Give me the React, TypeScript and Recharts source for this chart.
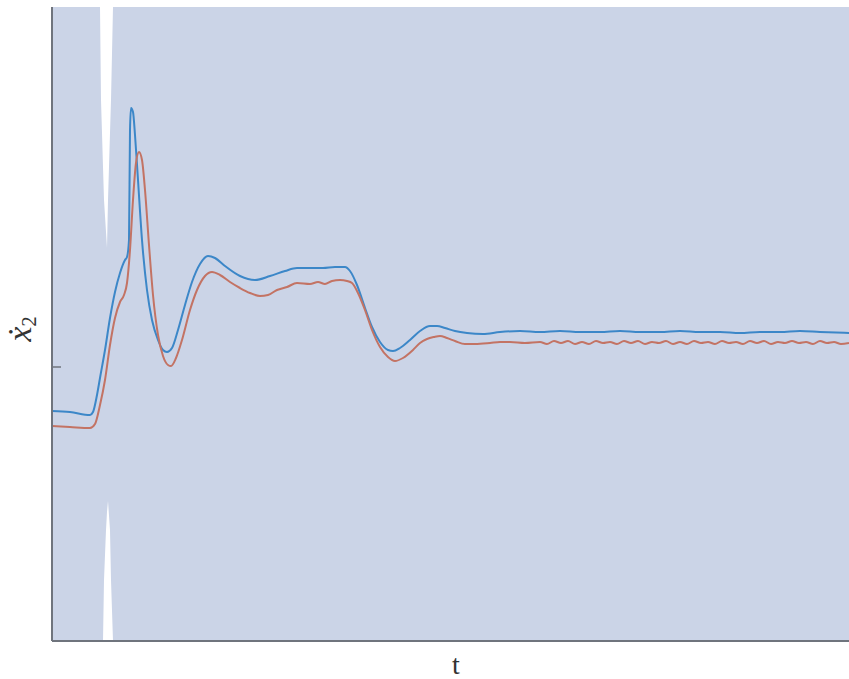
import React from 'react';
import { ComposedChart, Area, Line, XAxis, YAxis } from 'recharts';

// time axis (arbitrary units, 0..797) and estimated state derivative values
const blueT = [0, 18, 38, 41, 45, 48, 53, 58, 63, 68, 73, 75, 77, 78, 79, 81, 83, 86, 90, 95, 100, 106, 111, 115, 120, 126, 133, 140, 148, 156, 163, 173, 188, 203, 218, 233, 245, 258, 271, 283, 293, 298, 305, 313, 320, 328, 336, 341, 348, 358, 368, 378, 385, 393, 403, 415, 431, 448, 468, 488, 508, 528, 548, 568, 588, 608, 628, 648, 668, 688, 708, 728, 748, 768, 797];
const blueX = [-0.44, -0.45, -0.48, -0.45, -0.28, -0.11, 0.17, 0.49, 0.75, 0.94, 1.07, 1.1, 1.27, 2.37, 2.59, 2.55, 2.32, 1.87, 1.27, 0.77, 0.47, 0.27, 0.17, 0.15, 0.19, 0.37, 0.62, 0.85, 1.03, 1.11, 1.09, 1.01, 0.91, 0.87, 0.91, 0.96, 0.99, 0.99, 0.99, 1.0, 1.0, 0.96, 0.82, 0.59, 0.4, 0.25, 0.17, 0.16, 0.19, 0.27, 0.36, 0.41, 0.41, 0.39, 0.36, 0.34, 0.33, 0.35, 0.36, 0.35, 0.36, 0.35, 0.35, 0.36, 0.35, 0.35, 0.36, 0.35, 0.35, 0.34, 0.35, 0.35, 0.36, 0.35, 0.34];

const redT = [0, 18, 38, 43, 48, 53, 58, 63, 68, 72, 75, 78, 81, 84, 87, 90, 93, 97, 101, 106, 111, 116, 119, 124, 130, 138, 145, 153, 160, 168, 178, 188, 198, 208, 216, 225, 235, 245, 258, 266, 273, 280, 288, 295, 300, 306, 313, 320, 328, 336, 343, 351, 361, 368, 375, 382, 388, 395, 403, 413, 423, 438, 448, 458, 473, 488, 495, 502, 509, 516, 523, 530, 537, 544, 551, 558, 565, 572, 579, 586, 593, 600, 607, 614, 621, 628, 635, 642, 649, 656, 663, 670, 677, 684, 691, 698, 705, 712, 719, 726, 733, 740, 747, 754, 761, 768, 775, 782, 789, 797];
const redX = [-0.59, -0.6, -0.61, -0.57, -0.38, -0.13, 0.22, 0.49, 0.65, 0.72, 0.84, 1.17, 1.67, 2.04, 2.15, 2.07, 1.77, 1.22, 0.72, 0.32, 0.11, 0.02, 0.01, 0.09, 0.27, 0.57, 0.77, 0.91, 0.95, 0.92, 0.85, 0.79, 0.74, 0.71, 0.72, 0.77, 0.8, 0.84, 0.83, 0.85, 0.83, 0.86, 0.87, 0.86, 0.84, 0.74, 0.57, 0.37, 0.2, 0.1, 0.06, 0.09, 0.17, 0.24, 0.28, 0.3, 0.31, 0.29, 0.26, 0.23, 0.23, 0.24, 0.25, 0.25, 0.24, 0.25, 0.23, 0.26, 0.24, 0.26, 0.23, 0.25, 0.23, 0.26, 0.24, 0.25, 0.23, 0.26, 0.24, 0.26, 0.23, 0.25, 0.24, 0.26, 0.23, 0.25, 0.23, 0.26, 0.24, 0.25, 0.23, 0.26, 0.24, 0.25, 0.23, 0.26, 0.24, 0.26, 0.23, 0.25, 0.24, 0.26, 0.24, 0.25, 0.23, 0.26, 0.24, 0.25, 0.23, 0.24];

// uncertainty band bounds (mostly far outside the visible range)
const bandT = [0, 47, 48, 49, 50, 51, 52, 54, 55, 56, 58, 59, 61, 62, 797];
const bandLo = [-9, -9, -9, -9, -9, -2.74, -2.13, -1.63, -1.45, -1.34, -1.63, -2.13, -2.74, -9, -9];
const bandHi = [9, 9, 3.6, 2.67, 2.34, 2.0, 1.67, 1.35, 1.19, 1.67, 2.34, 2.67, 3.6, 9, 9];

const blueData = blueT.map((t, i) => ({ t, v: blueX[i] }));
const redData = redT.map((t, i) => ({ t, v: redX[i] }));
const bandData = bandT.map((t, i) => ({ t, band: [bandLo[i], bandHi[i]] }));

const axisColor = '#6f747d';

const YLabel = () => (
  <text transform="translate(31,329) rotate(-90)" textAnchor="middle" fontFamily="Liberation Serif" fill="#333">
    <tspan fontSize={34} fontStyle="italic">{'x\u0307'}</tspan>
    <tspan fontSize={21} dy={5}>2</tspan>
  </text>
);

const XLabel = () => (
  <text x={456} y={674} textAnchor="middle" fontFamily="Liberation Serif" fontSize={28} fill="#333">
    t
  </text>
);

const App = () => {
  return (
    <div style={{ position: 'absolute', left: 0, top: 0 }}>
      <ComposedChart width={849} height={679} margin={{ top: 7, right: 0, bottom: 30, left: 52 }}>
        <Area
          data={bandData}
          dataKey="band"
          type="linear"
          fill="#cbd4e7"
          fillOpacity={1}
          stroke="none"
          isAnimationActive={false}
        />
        <Line data={blueData} dataKey="v" type="monotone" stroke="#3c87c8" strokeWidth={2} dot={false} isAnimationActive={false} />
        <Line data={redData} dataKey="v" type="monotone" stroke="#c37364" strokeWidth={2} dot={false} isAnimationActive={false} />
        <XAxis
          type="number"
          dataKey="t"
          domain={[0, 797]}
          allowDataOverflow
          height={8}
          tick={false}
          tickLine={false}
          axisLine={{ stroke: axisColor, strokeWidth: 2 }}
          label={<XLabel />}
        />
        <YAxis
          type="number"
          domain={[-2.74, 3.6]}
          allowDataOverflow
          width={8}
          ticks={[0]}
          mirror
          tickSize={9}
          tickFormatter={() => ''}
          tickLine={{ stroke: axisColor, strokeWidth: 1.5 }}
          axisLine={{ stroke: axisColor, strokeWidth: 2 }}
          label={<YLabel />}
        />
      </ComposedChart>
    </div>
  );
};

export default App;
